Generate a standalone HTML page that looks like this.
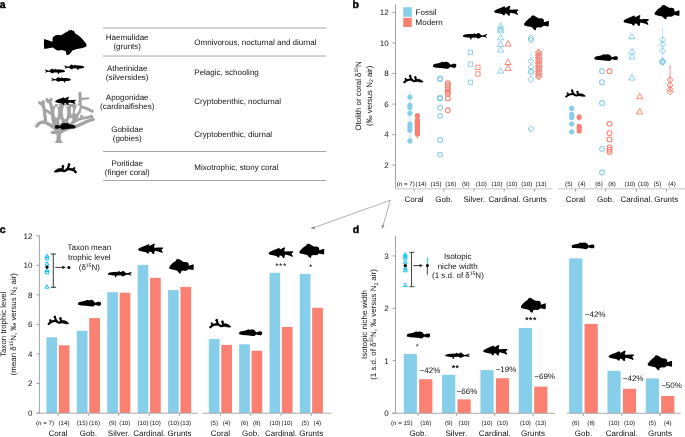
<!DOCTYPE html>
<html><head><meta charset="utf-8"><style>
html,body{margin:0;padding:0;background:#fff;width:685px;height:437px;overflow:hidden}
svg{display:block;will-change:transform}
text{font-family:"Liberation Sans",sans-serif;text-rendering:geometricPrecision}
</style></head><body>
<svg width="685" height="437" viewBox="0 0 685 437">
<rect width="685" height="437" fill="#fff"/>
<text x="-0.20" y="7.80" font-size="10.5" text-anchor="start" font-weight="bold" fill="#000" stroke="#000" stroke-width="0.45">a</text>
<line x1="103.00" y1="28.00" x2="326.30" y2="28.00" stroke="#a6a6a6" stroke-width="1" />
<line x1="103.00" y1="56.00" x2="326.30" y2="56.00" stroke="#a6a6a6" stroke-width="1" />
<line x1="103.00" y1="151.50" x2="326.30" y2="151.50" stroke="#a6a6a6" stroke-width="1" />
<line x1="103.00" y1="180.50" x2="326.30" y2="180.50" stroke="#a6a6a6" stroke-width="1" />
<text x="127.20" y="40.30" font-size="8.0" text-anchor="middle" font-weight="normal" fill="#111" >Haemulidae</text>
<text x="127.20" y="49.40" font-size="8.0" text-anchor="middle" font-weight="normal" fill="#111" >(grunts)</text>
<text x="194.30" y="44.85" font-size="8.0" text-anchor="start" font-weight="normal" fill="#111" >Omnivorous, nocturnal and diurnal</text>
<text x="127.20" y="70.80" font-size="8.0" text-anchor="middle" font-weight="normal" fill="#111" >Atherinidae</text>
<text x="127.20" y="79.90" font-size="8.0" text-anchor="middle" font-weight="normal" fill="#111" >(silversides)</text>
<text x="194.30" y="75.35" font-size="8.0" text-anchor="start" font-weight="normal" fill="#111" >Pelagic, schooling</text>
<text x="127.20" y="99.90" font-size="8.0" text-anchor="middle" font-weight="normal" fill="#111" >Apogonidae</text>
<text x="127.20" y="109.00" font-size="8.0" text-anchor="middle" font-weight="normal" fill="#111" >(cardinalfishes)</text>
<text x="194.30" y="104.45" font-size="8.0" text-anchor="start" font-weight="normal" fill="#111" >Cryptobenthic, nocturnal</text>
<text x="127.20" y="132.00" font-size="8.0" text-anchor="middle" font-weight="normal" fill="#111" >Gobiidae</text>
<text x="127.20" y="141.10" font-size="8.0" text-anchor="middle" font-weight="normal" fill="#111" >(gobies)</text>
<text x="194.30" y="136.55" font-size="8.0" text-anchor="start" font-weight="normal" fill="#111" >Cryptobenthic, diurnal</text>
<text x="127.20" y="165.50" font-size="8.0" text-anchor="middle" font-weight="normal" fill="#111" >Poritidae</text>
<text x="127.20" y="174.60" font-size="8.0" text-anchor="middle" font-weight="normal" fill="#111" >(finger coral)</text>
<text x="194.30" y="170.05" font-size="8.0" text-anchor="start" font-weight="normal" fill="#111" >Mixotrophic, stony coral</text>
<path transform="translate(43.80,29.20) scale(0.0743,0.0732)" d="M5,135 L118,172 L117,135 C121,100 150,80 188,80 C208,80 222,87 240,80 C265,64 295,42 330,24 L345,8 L357,22 L373,4 L385,24 L403,18 L423,60 C475,90 525,130 575,205 L572,238 C545,255 505,262 445,272 L385,290 C368,320 345,348 308,356 C300,335 300,312 294,298 L240,285 L205,292 L172,286 L150,270 L120,250 L8,272 C0,230 0,180 5,135 Z" fill="#000"/>
<path transform="translate(84.50,64.40) scale(-0.0364,0.0374)" d="M5,70 C20,45 60,32 135,30 L245,25 L265,0 L280,25 L315,30 L335,10 L365,5 L395,30 L415,50 L445,60 L545,30 L555,40 L515,80 L550,100 L540,115 L495,95 L435,90 L395,110 L365,130 L335,130 L305,105 L205,110 L195,150 L175,155 L165,115 L55,100 L10,90 Z" fill="#000"/>
<path transform="translate(65.20,68.50) scale(-0.0366,0.0374)" d="M5,70 C20,45 60,32 135,30 L245,25 L265,0 L280,25 L315,30 L335,10 L365,5 L395,30 L415,50 L445,60 L545,30 L555,40 L515,80 L550,100 L540,115 L495,95 L435,90 L395,110 L365,130 L335,130 L305,105 L205,110 L195,150 L175,155 L165,115 L55,100 L10,90 Z" fill="#000"/>
<path transform="translate(71.00,77.00) scale(-0.0357,0.0374)" d="M5,70 C20,45 60,32 135,30 L245,25 L265,0 L280,25 L315,30 L335,10 L365,5 L395,30 L415,50 L445,60 L545,30 L555,40 L515,80 L550,100 L540,115 L495,95 L435,90 L395,110 L365,130 L335,130 L305,105 L205,110 L195,150 L175,155 L165,115 L55,100 L10,90 Z" fill="#000"/>
<g fill="none" stroke="#a4a4a4" stroke-linecap="round" stroke-linejoin="round" stroke-width="2.99"><path d="M54.6,142.9 C56.4,141.5 56.8,139 56.6,135.5 L56.5,130 L60.9,130 L60.8,135.5 C60.6,139 61.2,141.5 63,142.9 Z" fill="#a4a4a4" stroke="none"/><path d="M53.2,104 L80.6,104 C81,110 79.5,116 76.5,120 C72,125 66,128.5 60.5,130.5 L56.5,130.5 C54.5,128 53.2,124 52.8,119 Z" fill="#a4a4a4" stroke="none"/><path stroke-width="3.33" d="M57.5,131 C54,127.5 49,123.6 44,122.2 C41,121.8 38.5,123 36.7,126.1"/><path stroke-width="2.99" d="M57.5,132.6 L52.3,132.4"/><path stroke-width="3.10" d="M59.5,133.2 C63,130.5 68,128.4 73.7,127.1 C79,125.5 84,122.8 88,121 L93.3,119.5"/><path stroke-width="2.76" d="M70,125.5 C73,122.5 75.5,120.5 78.5,119.4 C82,118.3 86,117.7 92.2,116.7 M81.9,118.4 L81.6,116.2 M90.2,117.1 L90.8,115.9"/><path stroke-width="3.22" d="M45.5,121 C45,116 44.5,111 43.8,107.5 C43.2,105 41.5,103.4 39.6,102.7 M43.3,104.8 L43.2,101.5"/><path stroke-width="2.76" d="M44.4,109.4 L51.6,114"/><path stroke-width="3.22" d="M54.5,126 C53.3,122 52.6,118 52.4,114 C52.2,110 51.6,106 50.5,103.5 C49.9,102.3 49.2,101.6 48.6,101"/><path stroke-width="2.99" d="M46.8,99.5 C47.6,102.2 50.4,102.2 51.2,99.4"/><path stroke-width="3.22" d="M79.4,112 C80.4,106 80.4,100 79.9,93.4"/><path stroke-width="2.30" d="M80.6,99.4 C83.5,98.6 85.8,98.3 88.2,98.3"/><path stroke-width="2.99" d="M80.6,106.6 C84.5,107.4 88.2,108.9 92.4,111.2"/></g>
<g fill="#fff"><ellipse cx="56.25" cy="112.2" rx="1.9" ry="5.8"/><ellipse cx="65.0" cy="112.3" rx="2.15" ry="6.9"/><ellipse cx="71.85" cy="110.4" rx="1.0" ry="4.0"/><ellipse cx="77.2" cy="109.6" rx="1.8" ry="4.6" transform="rotate(22 77.2 109.6)"/><ellipse cx="60.4" cy="121.6" rx="1.2" ry="2.5"/><ellipse cx="70.2" cy="120.5" rx="1.7" ry="2.9" transform="rotate(30 70.2 120.5)"/><ellipse cx="54.0" cy="104.6" rx="1.2" ry="1.6"/><ellipse cx="58.4" cy="105.6" rx="0.9" ry="1.4"/><ellipse cx="67.2" cy="105.6" rx="0.9" ry="1.4"/><ellipse cx="76.6" cy="104.4" rx="1.0" ry="1.6"/></g>
<path transform="translate(55.10,96.80) scale(0.0397,0.0364)" d="M0,130 C5,115 12,105 22,100 L72,75 L132,50 L182,30 L212,14 L232,25 L237,50 L257,40 L302,15 L337,0 L347,15 L327,80 L352,90 L432,85 L512,84 L522,103 L482,135 L512,190 L502,206 L452,180 L352,155 L337,180 L332,225 L307,225 L272,180 L232,175 L222,215 L192,215 L167,185 L112,175 L42,160 C20,156 8,152 4,146 C1,140 0,135 0,130 Z" fill="#000"/>
<path transform="translate(75.50,122.90) scale(-0.0390,0.0439)" d="M0,95 C2,75 8,62 20,57 L55,45 L125,35 C150,30 160,25 172,18 C185,8 195,4 210,2 C225,0 238,8 245,15 C255,6 265,3 285,2 C310,0 335,8 350,20 C365,32 375,48 385,65 C400,64 415,62 430,57 C450,49 470,45 495,48 C515,52 526,65 525,85 C524,105 520,122 500,133 C480,137 460,134 440,128 C420,122 405,116 385,118 C372,130 365,142 350,150 C335,156 318,156 300,152 C280,147 260,143 230,141 L175,136 L75,130 C40,127 15,122 8,115 C2,108 0,100 0,95 Z" fill="#000"/>
<g transform="translate(76.60,163.00) scale(-0.0436,0.0455) translate(-80,-120)" fill="none" stroke="#000" stroke-linecap="round" stroke-linejoin="round"><path stroke-width="54" d="M100,322 C122,298 145,280 175,268 C210,256 245,248 280,252 C305,258 322,280 345,290 C370,297 395,292 412,280"/><path stroke-width="50" d="M160,268 C150,255 142,242 134,232"/><path stroke-width="52" d="M292,256 C272,222 260,188 254,156"/><circle cx="253" cy="158" r="30" fill="#000" stroke="none"/><path stroke-width="50" d="M405,268 C400,240 396,212 393,192"/><circle cx="392" cy="193" r="28" fill="#000" stroke="none"/><path fill="#000" stroke-width="8" d="M392,255 C432,228 482,232 530,255 C565,272 590,296 600,316 C578,326 540,324 500,317 C452,309 412,300 382,290 Z"/></g>
<text x="352.40" y="7.60" font-size="10.5" text-anchor="start" font-weight="bold" fill="#000" stroke="#000" stroke-width="0.45">b</text>
<line x1="395.50" y1="4.40" x2="395.50" y2="188.60" stroke="#8c8c8c" stroke-width="0.8" />
<line x1="392.30" y1="165.20" x2="395.50" y2="165.20" stroke="#8c8c8c" stroke-width="0.8" />
<text x="388.60" y="168.00" font-size="8.0" text-anchor="end" font-weight="normal" fill="#111" >2</text>
<line x1="392.30" y1="134.64" x2="395.50" y2="134.64" stroke="#8c8c8c" stroke-width="0.8" />
<text x="388.60" y="137.44" font-size="8.0" text-anchor="end" font-weight="normal" fill="#111" >4</text>
<line x1="392.30" y1="104.08" x2="395.50" y2="104.08" stroke="#8c8c8c" stroke-width="0.8" />
<text x="388.60" y="106.88" font-size="8.0" text-anchor="end" font-weight="normal" fill="#111" >6</text>
<line x1="392.30" y1="73.52" x2="395.50" y2="73.52" stroke="#8c8c8c" stroke-width="0.8" />
<text x="388.60" y="76.32" font-size="8.0" text-anchor="end" font-weight="normal" fill="#111" >8</text>
<line x1="392.30" y1="42.96" x2="395.50" y2="42.96" stroke="#8c8c8c" stroke-width="0.8" />
<text x="388.60" y="45.76" font-size="8.0" text-anchor="end" font-weight="normal" fill="#111" >10</text>
<line x1="392.30" y1="12.40" x2="395.50" y2="12.40" stroke="#8c8c8c" stroke-width="0.8" />
<text x="388.60" y="15.20" font-size="8.0" text-anchor="end" font-weight="normal" fill="#111" >12</text>
<line x1="395.50" y1="188.90" x2="552.50" y2="188.90" stroke="#c4c4c4" stroke-width="1" />
<line x1="557.50" y1="188.90" x2="685.00" y2="188.90" stroke="#c4c4c4" stroke-width="1" />
<line x1="414.10" y1="188.90" x2="414.10" y2="191.60" stroke="#8c8c8c" stroke-width="0.8" />
<line x1="443.90" y1="188.90" x2="443.90" y2="191.60" stroke="#8c8c8c" stroke-width="0.8" />
<line x1="473.90" y1="188.90" x2="473.90" y2="191.60" stroke="#8c8c8c" stroke-width="0.8" />
<line x1="504.20" y1="188.90" x2="504.20" y2="191.60" stroke="#8c8c8c" stroke-width="0.8" />
<line x1="534.50" y1="188.90" x2="534.50" y2="191.60" stroke="#8c8c8c" stroke-width="0.8" />
<line x1="575.40" y1="188.90" x2="575.40" y2="191.60" stroke="#8c8c8c" stroke-width="0.8" />
<line x1="605.60" y1="188.90" x2="605.60" y2="191.60" stroke="#8c8c8c" stroke-width="0.8" />
<line x1="636.40" y1="188.90" x2="636.40" y2="191.60" stroke="#8c8c8c" stroke-width="0.8" />
<line x1="666.40" y1="188.90" x2="666.40" y2="191.60" stroke="#8c8c8c" stroke-width="0.8" />
<text transform="translate(361.46,95.80) rotate(-90)" font-size="7.9" text-anchor="middle" fill="#111">Otolith or coral δ<tspan font-size="5" dy="-3">15</tspan><tspan dy="3">N</tspan></text>
<text transform="translate(371.56,95.80) rotate(-90)" font-size="7.9" text-anchor="middle" fill="#111">(‰ versus N<tspan font-size="5" dy="1.6">2</tspan><tspan dy="-1.6"> air)</tspan></text>
<rect x="403.20" y="7.20" width="8.60" height="9.60" fill="#87CEEB"/>
<rect x="403.20" y="17.80" width="8.60" height="9.20" fill="#FA8072"/>
<text x="415.60" y="14.80" font-size="8.0" text-anchor="start" font-weight="normal" fill="#111" >Fossil</text>
<text x="415.60" y="24.60" font-size="8.0" text-anchor="start" font-weight="normal" fill="#111" >Modern</text>
<text x="414.80" y="185.70" font-size="6.2" text-anchor="end" font-weight="normal" fill="#111" >(<tspan font-style="italic">n</tspan> = 7)</text>
<text x="421.10" y="185.70" font-size="6.2" text-anchor="middle" font-weight="normal" fill="#111" >(14)</text>
<text x="436.00" y="185.70" font-size="6.2" text-anchor="middle" font-weight="normal" fill="#111" >(15)</text>
<text x="450.80" y="185.70" font-size="6.2" text-anchor="middle" font-weight="normal" fill="#111" >(16)</text>
<text x="465.70" y="185.70" font-size="6.2" text-anchor="middle" font-weight="normal" fill="#111" >(9)</text>
<text x="481.20" y="185.70" font-size="6.2" text-anchor="middle" font-weight="normal" fill="#111" >(10)</text>
<text x="497.00" y="185.70" font-size="6.2" text-anchor="middle" font-weight="normal" fill="#111" >(10)</text>
<text x="511.70" y="185.70" font-size="6.2" text-anchor="middle" font-weight="normal" fill="#111" >(10)</text>
<text x="526.80" y="185.70" font-size="6.2" text-anchor="middle" font-weight="normal" fill="#111" >(10)</text>
<text x="541.00" y="185.70" font-size="6.2" text-anchor="middle" font-weight="normal" fill="#111" >(13)</text>
<text x="568.90" y="185.70" font-size="6.2" text-anchor="middle" font-weight="normal" fill="#111" >(5)</text>
<text x="581.90" y="185.70" font-size="6.2" text-anchor="middle" font-weight="normal" fill="#111" >(4)</text>
<text x="599.10" y="185.70" font-size="6.2" text-anchor="middle" font-weight="normal" fill="#111" >(6)</text>
<text x="612.10" y="185.70" font-size="6.2" text-anchor="middle" font-weight="normal" fill="#111" >(8)</text>
<text x="629.90" y="185.70" font-size="6.2" text-anchor="middle" font-weight="normal" fill="#111" >(10)</text>
<text x="643.40" y="185.70" font-size="6.2" text-anchor="middle" font-weight="normal" fill="#111" >(10)</text>
<text x="657.60" y="185.70" font-size="6.2" text-anchor="middle" font-weight="normal" fill="#111" >(5)</text>
<text x="672.00" y="185.70" font-size="6.2" text-anchor="middle" font-weight="normal" fill="#111" >(4)</text>
<text x="414.10" y="202.10" font-size="8.0" text-anchor="middle" font-weight="normal" fill="#111" >Coral</text>
<text x="443.90" y="202.10" font-size="8.0" text-anchor="middle" font-weight="normal" fill="#111" >Gob.</text>
<text x="474.30" y="202.10" font-size="8.0" text-anchor="middle" font-weight="normal" fill="#111" >Silver.</text>
<text x="504.50" y="202.10" font-size="8.0" text-anchor="middle" font-weight="normal" fill="#111" >Cardinal.</text>
<text x="534.80" y="202.10" font-size="8.0" text-anchor="middle" font-weight="normal" fill="#111" >Grunts</text>
<text x="575.40" y="202.10" font-size="8.0" text-anchor="middle" font-weight="normal" fill="#111" >Coral</text>
<text x="605.60" y="202.10" font-size="8.0" text-anchor="middle" font-weight="normal" fill="#111" >Gob.</text>
<text x="636.40" y="202.10" font-size="8.0" text-anchor="middle" font-weight="normal" fill="#111" >Cardinal.</text>
<text x="666.30" y="202.10" font-size="8.0" text-anchor="middle" font-weight="normal" fill="#111" >Grunts</text>
<line x1="409.90" y1="91.20" x2="409.90" y2="140.90" stroke="#b9e2f3" stroke-width="0.9" />
<circle cx="409.90" cy="97.10" r="2.6" fill="#87CEEB"/>
<circle cx="409.90" cy="105.40" r="2.6" fill="#87CEEB"/>
<circle cx="409.90" cy="107.40" r="2.6" fill="#87CEEB"/>
<circle cx="409.90" cy="113.30" r="2.6" fill="#87CEEB"/>
<circle cx="409.90" cy="124.00" r="2.6" fill="#87CEEB"/>
<circle cx="409.90" cy="127.00" r="2.6" fill="#87CEEB"/>
<circle cx="409.90" cy="130.20" r="2.6" fill="#87CEEB"/>
<circle cx="409.90" cy="140.90" r="2.6" fill="#87CEEB"/>
<line x1="417.40" y1="115.00" x2="417.40" y2="138.50" stroke="#FA8072" stroke-width="0.9" />
<circle cx="417.40" cy="115.70" r="2.6" fill="#FA8072"/>
<circle cx="417.40" cy="120.00" r="2.6" fill="#FA8072"/>
<circle cx="417.40" cy="121.16" r="2.6" fill="#FA8072"/>
<circle cx="417.40" cy="122.32" r="2.6" fill="#FA8072"/>
<circle cx="417.40" cy="123.47" r="2.6" fill="#FA8072"/>
<circle cx="417.40" cy="124.63" r="2.6" fill="#FA8072"/>
<circle cx="417.40" cy="125.79" r="2.6" fill="#FA8072"/>
<circle cx="417.40" cy="126.95" r="2.6" fill="#FA8072"/>
<circle cx="417.40" cy="128.11" r="2.6" fill="#FA8072"/>
<circle cx="417.40" cy="129.27" r="2.6" fill="#FA8072"/>
<circle cx="417.40" cy="130.43" r="2.6" fill="#FA8072"/>
<circle cx="417.40" cy="131.58" r="2.6" fill="#FA8072"/>
<circle cx="417.40" cy="132.74" r="2.6" fill="#FA8072"/>
<circle cx="417.40" cy="133.90" r="2.6" fill="#FA8072"/>
<circle cx="440.10" cy="78.50" r="2.4" fill="none" stroke="#87CEEB" stroke-width="1.1"/>
<circle cx="440.10" cy="79.10" r="2.4" fill="none" stroke="#87CEEB" stroke-width="1.1"/>
<circle cx="440.10" cy="97.60" r="2.4" fill="none" stroke="#87CEEB" stroke-width="1.1"/>
<circle cx="440.10" cy="98.10" r="2.4" fill="none" stroke="#87CEEB" stroke-width="1.1"/>
<circle cx="440.10" cy="98.60" r="2.4" fill="none" stroke="#87CEEB" stroke-width="1.1"/>
<circle cx="440.10" cy="107.70" r="2.4" fill="none" stroke="#87CEEB" stroke-width="1.1"/>
<circle cx="440.10" cy="116.00" r="2.4" fill="none" stroke="#87CEEB" stroke-width="1.1"/>
<circle cx="440.10" cy="140.00" r="2.4" fill="none" stroke="#87CEEB" stroke-width="1.1"/>
<circle cx="440.10" cy="154.60" r="2.4" fill="none" stroke="#87CEEB" stroke-width="1.1"/>
<circle cx="447.80" cy="83.30" r="2.4" fill="none" stroke="#FA8072" stroke-width="1.1"/>
<circle cx="447.80" cy="85.50" r="2.4" fill="none" stroke="#FA8072" stroke-width="1.1"/>
<circle cx="447.80" cy="87.70" r="2.4" fill="none" stroke="#FA8072" stroke-width="1.1"/>
<circle cx="447.80" cy="89.90" r="2.4" fill="none" stroke="#FA8072" stroke-width="1.1"/>
<circle cx="447.80" cy="92.00" r="2.4" fill="none" stroke="#FA8072" stroke-width="1.1"/>
<circle cx="447.80" cy="93.80" r="2.4" fill="none" stroke="#FA8072" stroke-width="1.1"/>
<circle cx="447.80" cy="98.40" r="2.4" fill="none" stroke="#FA8072" stroke-width="1.1"/>
<circle cx="447.80" cy="110.30" r="2.4" fill="none" stroke="#FA8072" stroke-width="1.1"/>
<rect x="468.25" y="50.25" width="4.3" height="4.3" fill="none" stroke="#87CEEB" stroke-width="0.9"/>
<rect x="468.25" y="61.95" width="4.3" height="4.3" fill="none" stroke="#87CEEB" stroke-width="0.9"/>
<rect x="468.25" y="80.15" width="4.3" height="4.3" fill="none" stroke="#87CEEB" stroke-width="0.9"/>
<rect x="475.75" y="65.15" width="4.3" height="4.3" fill="none" stroke="#FA8072" stroke-width="0.9"/>
<rect x="475.75" y="71.85" width="4.3" height="4.3" fill="none" stroke="#FA8072" stroke-width="0.9"/>
<path d="M500.60,22.75 L503.75,28.25 L497.45,28.25 Z" fill="none" stroke="#87CEEB" stroke-width="0.95" stroke-linejoin="miter"/>
<path d="M500.60,25.55 L503.75,31.05 L497.45,31.05 Z" fill="none" stroke="#87CEEB" stroke-width="0.95" stroke-linejoin="miter"/>
<path d="M500.60,27.35 L503.75,32.85 L497.45,32.85 Z" fill="none" stroke="#87CEEB" stroke-width="0.95" stroke-linejoin="miter"/>
<path d="M500.60,34.35 L503.75,39.85 L497.45,39.85 Z" fill="none" stroke="#87CEEB" stroke-width="0.95" stroke-linejoin="miter"/>
<path d="M500.60,41.05 L503.75,46.55 L497.45,46.55 Z" fill="none" stroke="#87CEEB" stroke-width="0.95" stroke-linejoin="miter"/>
<path d="M500.60,46.55 L503.75,52.05 L497.45,52.05 Z" fill="none" stroke="#87CEEB" stroke-width="0.95" stroke-linejoin="miter"/>
<path d="M500.60,67.65 L503.75,73.15 L497.45,73.15 Z" fill="none" stroke="#87CEEB" stroke-width="0.95" stroke-linejoin="miter"/>
<path d="M508.10,40.55 L511.25,46.05 L504.95,46.05 Z" fill="none" stroke="#FA8072" stroke-width="0.95" stroke-linejoin="miter"/>
<path d="M508.10,59.05 L511.25,64.55 L504.95,64.55 Z" fill="none" stroke="#FA8072" stroke-width="0.95" stroke-linejoin="miter"/>
<path d="M508.10,64.85 L511.25,70.35 L504.95,70.35 Z" fill="none" stroke="#FA8072" stroke-width="0.95" stroke-linejoin="miter"/>
<line x1="531.00" y1="51.30" x2="531.00" y2="62.00" stroke="#b9e2f3" stroke-width="0.9" />
<path d="M531.00,34.95 L534.05,38.00 L531.00,41.05 L527.95,38.00 Z" fill="none" stroke="#87CEEB" stroke-width="1.0"/>
<path d="M531.00,37.05 L534.05,40.10 L531.00,43.15 L527.95,40.10 Z" fill="none" stroke="#87CEEB" stroke-width="1.0"/>
<path d="M531.00,58.15 L534.05,61.20 L531.00,64.25 L527.95,61.20 Z" fill="none" stroke="#87CEEB" stroke-width="1.0"/>
<path d="M531.00,63.75 L534.05,66.80 L531.00,69.85 L527.95,66.80 Z" fill="none" stroke="#87CEEB" stroke-width="1.0"/>
<path d="M531.00,68.05 L534.05,71.10 L531.00,74.15 L527.95,71.10 Z" fill="none" stroke="#87CEEB" stroke-width="1.0"/>
<path d="M531.00,69.65 L534.05,72.70 L531.00,75.75 L527.95,72.70 Z" fill="none" stroke="#87CEEB" stroke-width="1.0"/>
<path d="M531.00,76.25 L534.05,79.30 L531.00,82.35 L527.95,79.30 Z" fill="none" stroke="#87CEEB" stroke-width="1.0"/>
<path d="M531.00,125.85 L534.05,128.90 L531.00,131.95 L527.95,128.90 Z" fill="none" stroke="#87CEEB" stroke-width="1.0"/>
<path d="M538.70,49.35 L541.75,52.40 L538.70,55.45 L535.65,52.40 Z" fill="none" stroke="#FA8072" stroke-width="1.15"/>
<path d="M538.70,52.02 L541.75,55.07 L538.70,58.12 L535.65,55.07 Z" fill="none" stroke="#FA8072" stroke-width="1.15"/>
<path d="M538.70,54.68 L541.75,57.73 L538.70,60.78 L535.65,57.73 Z" fill="none" stroke="#FA8072" stroke-width="1.15"/>
<path d="M538.70,57.35 L541.75,60.40 L538.70,63.45 L535.65,60.40 Z" fill="none" stroke="#FA8072" stroke-width="1.15"/>
<path d="M538.70,60.02 L541.75,63.07 L538.70,66.12 L535.65,63.07 Z" fill="none" stroke="#FA8072" stroke-width="1.15"/>
<path d="M538.70,62.68 L541.75,65.73 L538.70,68.78 L535.65,65.73 Z" fill="none" stroke="#FA8072" stroke-width="1.15"/>
<path d="M538.70,65.35 L541.75,68.40 L538.70,71.45 L535.65,68.40 Z" fill="none" stroke="#FA8072" stroke-width="1.15"/>
<path d="M538.70,68.02 L541.75,71.07 L538.70,74.12 L535.65,71.07 Z" fill="none" stroke="#FA8072" stroke-width="1.15"/>
<path d="M538.70,70.68 L541.75,73.73 L538.70,76.78 L535.65,73.73 Z" fill="none" stroke="#FA8072" stroke-width="1.15"/>
<path d="M538.70,73.35 L541.75,76.40 L538.70,79.45 L535.65,76.40 Z" fill="none" stroke="#FA8072" stroke-width="1.15"/>
<circle cx="571.70" cy="108.40" r="2.6" fill="#87CEEB"/>
<circle cx="571.70" cy="114.30" r="2.6" fill="#87CEEB"/>
<circle cx="571.70" cy="117.60" r="2.6" fill="#87CEEB"/>
<circle cx="571.70" cy="124.10" r="2.6" fill="#87CEEB"/>
<circle cx="571.70" cy="131.80" r="2.6" fill="#87CEEB"/>
<line x1="579.20" y1="113.90" x2="579.20" y2="120.50" stroke="#FA8072" stroke-width="0.9" />
<circle cx="579.20" cy="117.20" r="2.6" fill="#FA8072"/>
<circle cx="579.20" cy="126.30" r="2.6" fill="#FA8072"/>
<circle cx="579.20" cy="128.60" r="2.6" fill="#FA8072"/>
<circle cx="579.20" cy="131.00" r="2.6" fill="#FA8072"/>
<circle cx="602.00" cy="71.30" r="2.4" fill="none" stroke="#87CEEB" stroke-width="1.1"/>
<circle cx="602.00" cy="82.20" r="2.4" fill="none" stroke="#87CEEB" stroke-width="1.1"/>
<circle cx="602.00" cy="103.00" r="2.4" fill="none" stroke="#87CEEB" stroke-width="1.1"/>
<circle cx="602.00" cy="148.90" r="2.4" fill="none" stroke="#87CEEB" stroke-width="1.1"/>
<circle cx="602.00" cy="172.50" r="2.4" fill="none" stroke="#87CEEB" stroke-width="1.1"/>
<circle cx="609.50" cy="71.30" r="2.4" fill="none" stroke="#FA8072" stroke-width="1.1"/>
<circle cx="609.50" cy="123.60" r="2.4" fill="none" stroke="#FA8072" stroke-width="1.1"/>
<circle cx="609.50" cy="133.10" r="2.4" fill="none" stroke="#FA8072" stroke-width="1.1"/>
<circle cx="609.50" cy="139.40" r="2.4" fill="none" stroke="#FA8072" stroke-width="1.1"/>
<circle cx="609.50" cy="147.40" r="2.4" fill="none" stroke="#FA8072" stroke-width="1.1"/>
<circle cx="609.50" cy="149.70" r="2.4" fill="none" stroke="#FA8072" stroke-width="1.1"/>
<circle cx="609.50" cy="151.90" r="2.4" fill="none" stroke="#FA8072" stroke-width="1.1"/>
<path d="M631.90,33.25 L635.05,38.75 L628.75,38.75 Z" fill="none" stroke="#87CEEB" stroke-width="0.95" stroke-linejoin="miter"/>
<path d="M631.90,48.55 L635.05,54.05 L628.75,54.05 Z" fill="none" stroke="#87CEEB" stroke-width="0.95" stroke-linejoin="miter"/>
<path d="M631.90,53.35 L635.05,58.85 L628.75,58.85 Z" fill="none" stroke="#87CEEB" stroke-width="0.95" stroke-linejoin="miter"/>
<path d="M631.90,74.55 L635.05,80.05 L628.75,80.05 Z" fill="none" stroke="#87CEEB" stroke-width="0.95" stroke-linejoin="miter"/>
<path d="M639.70,93.25 L642.85,98.75 L636.55,98.75 Z" fill="none" stroke="#FA8072" stroke-width="0.95" stroke-linejoin="miter"/>
<path d="M639.70,108.45 L642.85,113.95 L636.55,113.95 Z" fill="none" stroke="#FA8072" stroke-width="0.95" stroke-linejoin="miter"/>
<line x1="662.60" y1="27.40" x2="662.60" y2="62.00" stroke="#b9e2f3" stroke-width="0.9" />
<path d="M662.60,36.65 L665.65,39.70 L662.60,42.75 L659.55,39.70 Z" fill="none" stroke="#87CEEB" stroke-width="1.0"/>
<path d="M662.60,41.35 L665.65,44.40 L662.60,47.45 L659.55,44.40 Z" fill="none" stroke="#87CEEB" stroke-width="1.0"/>
<path d="M662.60,47.85 L665.65,50.90 L662.60,53.95 L659.55,50.90 Z" fill="none" stroke="#87CEEB" stroke-width="1.0"/>
<path d="M662.60,57.75 L665.65,60.80 L662.60,63.85 L659.55,60.80 Z" fill="none" stroke="#87CEEB" stroke-width="1.0"/>
<path d="M662.60,58.35 L665.65,61.40 L662.60,64.45 L659.55,61.40 Z" fill="none" stroke="#87CEEB" stroke-width="1.0"/>
<path d="M662.60,58.95 L665.65,62.00 L662.60,65.05 L659.55,62.00 Z" fill="none" stroke="#87CEEB" stroke-width="1.0"/>
<path d="M662.60,59.55 L665.65,62.60 L662.60,65.65 L659.55,62.60 Z" fill="none" stroke="#87CEEB" stroke-width="1.0"/>
<line x1="670.10" y1="65.00" x2="670.10" y2="92.00" stroke="#FA8072" stroke-width="0.9" />
<path d="M670.10,76.85 L673.15,79.90 L670.10,82.95 L667.05,79.90 Z" fill="none" stroke="#FA8072" stroke-width="1.0"/>
<path d="M670.10,81.95 L673.15,85.00 L670.10,88.05 L667.05,85.00 Z" fill="none" stroke="#FA8072" stroke-width="1.0"/>
<path d="M670.10,86.35 L673.15,89.40 L670.10,92.45 L667.05,89.40 Z" fill="none" stroke="#FA8072" stroke-width="1.0"/>
<path d="M670.10,88.75 L673.15,91.80 L670.10,94.85 L667.05,91.80 Z" fill="none" stroke="#FA8072" stroke-width="1.0"/>
<g transform="translate(403.50,74.50) scale(0.0381,0.0386) translate(-80,-120)" fill="none" stroke="#000" stroke-linecap="round" stroke-linejoin="round"><path stroke-width="54" d="M100,322 C122,298 145,280 175,268 C210,256 245,248 280,252 C305,258 322,280 345,290 C370,297 395,292 412,280"/><path stroke-width="50" d="M160,268 C150,255 142,242 134,232"/><path stroke-width="52" d="M292,256 C272,222 260,188 254,156"/><circle cx="253" cy="158" r="30" fill="#000" stroke="none"/><path stroke-width="50" d="M405,268 C400,240 396,212 393,192"/><circle cx="392" cy="193" r="28" fill="#000" stroke="none"/><path fill="#000" stroke-width="8" d="M392,255 C432,228 482,232 530,255 C565,272 590,296 600,316 C578,326 540,324 500,317 C452,309 412,300 382,290 Z"/></g>
<path transform="translate(433.00,61.60) scale(0.0444,0.0465)" d="M0,95 C2,75 8,62 20,57 L55,45 L125,35 C150,30 160,25 172,18 C185,8 195,4 210,2 C225,0 238,8 245,15 C255,6 265,3 285,2 C310,0 335,8 350,20 C365,32 375,48 385,65 C400,64 415,62 430,57 C450,49 470,45 495,48 C515,52 526,65 525,85 C524,105 520,122 500,133 C480,137 460,134 440,128 C420,122 405,116 385,118 C372,130 365,142 350,150 C335,156 318,156 300,152 C280,147 260,143 230,141 L175,136 L75,130 C40,127 15,122 8,115 C2,108 0,100 0,95 Z" fill="#000"/>
<path transform="translate(462.70,32.80) scale(0.0441,0.0439)" d="M5,70 C20,45 60,32 135,30 L245,25 L265,0 L280,25 L315,30 L335,10 L365,5 L395,30 L415,50 L445,60 L545,30 L555,40 L515,80 L550,100 L540,115 L495,95 L435,90 L395,110 L365,130 L335,130 L305,105 L205,110 L195,150 L175,155 L165,115 L55,100 L10,90 Z" fill="#000"/>
<path transform="translate(494.20,5.70) scale(0.0466,0.0449)" d="M0,130 C5,115 12,105 22,100 L72,75 L132,50 L182,30 L212,14 L232,25 L237,50 L257,40 L302,15 L337,0 L347,15 L327,80 L352,90 L432,85 L512,84 L522,103 L482,135 L512,190 L502,206 L452,180 L352,155 L337,180 L332,225 L307,225 L272,180 L232,175 L222,215 L192,215 L167,185 L112,175 L42,160 C20,156 8,152 4,146 C1,140 0,135 0,130 Z" fill="#000"/>
<path transform="translate(549.00,14.90) scale(-0.0433,0.0431)" d="M5,135 L118,172 L117,135 C121,100 150,80 188,80 C208,80 222,87 240,80 C265,64 295,42 330,24 L345,8 L357,22 L373,4 L385,24 L403,18 L423,60 C475,90 525,130 575,205 L572,238 C545,255 505,262 445,272 L385,290 C368,320 345,348 308,356 C300,335 300,312 294,298 L240,285 L205,292 L172,286 L150,270 L120,250 L8,272 C0,230 0,180 5,135 Z" fill="#000"/>
<g transform="translate(565.40,89.20) scale(0.0387,0.0364) translate(-80,-120)" fill="none" stroke="#000" stroke-linecap="round" stroke-linejoin="round"><path stroke-width="54" d="M100,322 C122,298 145,280 175,268 C210,256 245,248 280,252 C305,258 322,280 345,290 C370,297 395,292 412,280"/><path stroke-width="50" d="M160,268 C150,255 142,242 134,232"/><path stroke-width="52" d="M292,256 C272,222 260,188 254,156"/><circle cx="253" cy="158" r="30" fill="#000" stroke="none"/><path stroke-width="50" d="M405,268 C400,240 396,212 393,192"/><circle cx="392" cy="193" r="28" fill="#000" stroke="none"/><path fill="#000" stroke-width="8" d="M392,255 C432,228 482,232 530,255 C565,272 590,296 600,316 C578,326 540,324 500,317 C452,309 412,300 382,290 Z"/></g>
<path transform="translate(594.40,54.20) scale(0.0446,0.0439)" d="M0,95 C2,75 8,62 20,57 L55,45 L125,35 C150,30 160,25 172,18 C185,8 195,4 210,2 C225,0 238,8 245,15 C255,6 265,3 285,2 C310,0 335,8 350,20 C365,32 375,48 385,65 C400,64 415,62 430,57 C450,49 470,45 495,48 C515,52 526,65 525,85 C524,105 520,122 500,133 C480,137 460,134 440,128 C420,122 405,116 385,118 C372,130 365,142 350,150 C335,156 318,156 300,152 C280,147 260,143 230,141 L175,136 L75,130 C40,127 15,122 8,115 C2,108 0,100 0,95 Z" fill="#000"/>
<path transform="translate(623.60,14.90) scale(0.0485,0.0489)" d="M0,130 C5,115 12,105 22,100 L72,75 L132,50 L182,30 L212,14 L232,25 L237,50 L257,40 L302,15 L337,0 L347,15 L327,80 L352,90 L432,85 L512,84 L522,103 L482,135 L512,190 L502,206 L452,180 L352,155 L337,180 L332,225 L307,225 L272,180 L232,175 L222,215 L192,215 L167,185 L112,175 L42,160 C20,156 8,152 4,146 C1,140 0,135 0,130 Z" fill="#000"/>
<path transform="translate(679.60,4.50) scale(-0.0436,0.0420)" d="M5,135 L118,172 L117,135 C121,100 150,80 188,80 C208,80 222,87 240,80 C265,64 295,42 330,24 L345,8 L357,22 L373,4 L385,24 L403,18 L423,60 C475,90 525,130 575,205 L572,238 C545,255 505,262 445,272 L385,290 C368,320 345,348 308,356 C300,335 300,312 294,298 L240,285 L205,292 L172,286 L150,270 L120,250 L8,272 C0,230 0,180 5,135 Z" fill="#000"/>
<g stroke="#8c8c8c" stroke-width="0.7" fill="none"><path d="M390.3,200.2 L313.5,227.8"/><path d="M390.3,200.2 L382.9,226.2"/></g>
<path d="M310.6,228.8 L315.0,228.9 L313.9,225.9 Z M382.1,229.0 L384.6,225.6 L381.6,224.8 Z" fill="#8c8c8c"/>
<text x="-0.20" y="232.80" font-size="10.5" text-anchor="start" font-weight="bold" fill="#000" stroke="#000" stroke-width="0.45">c</text>
<line x1="39.40" y1="235.50" x2="39.40" y2="413.00" stroke="#8c8c8c" stroke-width="0.8" />
<line x1="36.40" y1="413.00" x2="39.40" y2="413.00" stroke="#8c8c8c" stroke-width="0.8" />
<text x="32.40" y="415.80" font-size="8.0" text-anchor="end" font-weight="normal" fill="#111" >0</text>
<line x1="36.40" y1="383.46" x2="39.40" y2="383.46" stroke="#8c8c8c" stroke-width="0.8" />
<text x="32.40" y="386.26" font-size="8.0" text-anchor="end" font-weight="normal" fill="#111" >2</text>
<line x1="36.40" y1="353.92" x2="39.40" y2="353.92" stroke="#8c8c8c" stroke-width="0.8" />
<text x="32.40" y="356.72" font-size="8.0" text-anchor="end" font-weight="normal" fill="#111" >4</text>
<line x1="36.40" y1="324.38" x2="39.40" y2="324.38" stroke="#8c8c8c" stroke-width="0.8" />
<text x="32.40" y="327.18" font-size="8.0" text-anchor="end" font-weight="normal" fill="#111" >6</text>
<line x1="36.40" y1="294.84" x2="39.40" y2="294.84" stroke="#8c8c8c" stroke-width="0.8" />
<text x="32.40" y="297.64" font-size="8.0" text-anchor="end" font-weight="normal" fill="#111" >8</text>
<line x1="36.40" y1="265.30" x2="39.40" y2="265.30" stroke="#8c8c8c" stroke-width="0.8" />
<text x="32.40" y="268.10" font-size="8.0" text-anchor="end" font-weight="normal" fill="#111" >10</text>
<line x1="36.40" y1="235.76" x2="39.40" y2="235.76" stroke="#8c8c8c" stroke-width="0.8" />
<text x="32.40" y="238.56" font-size="8.0" text-anchor="end" font-weight="normal" fill="#111" >12</text>
<text transform="translate(6.17,324.20) rotate(-90)" font-size="7.9" text-anchor="middle" fill="#111">Taxon trophic level</text>
<text transform="translate(15.57,324.20) rotate(-90)" font-size="7.9" text-anchor="middle" fill="#111">(mean δ<tspan font-size="5" dy="-3">15</tspan><tspan dy="3">N</tspan>, ‰ versus N<tspan font-size="5" dy="1.6">2</tspan><tspan dy="-1.6"> air)</tspan></text>
<rect x="46.40" y="337.30" width="10.70" height="75.70" fill="#87CEEB"/>
<rect x="58.80" y="345.30" width="10.70" height="67.70" fill="#FA8072"/>
<rect x="76.81" y="330.70" width="10.70" height="82.30" fill="#87CEEB"/>
<rect x="89.21" y="318.10" width="10.70" height="94.90" fill="#FA8072"/>
<rect x="107.22" y="292.20" width="10.70" height="120.80" fill="#87CEEB"/>
<rect x="119.62" y="292.70" width="10.70" height="120.30" fill="#FA8072"/>
<rect x="137.63" y="264.90" width="10.70" height="148.10" fill="#87CEEB"/>
<rect x="150.03" y="277.80" width="10.70" height="135.20" fill="#FA8072"/>
<rect x="168.04" y="290.10" width="10.70" height="122.90" fill="#87CEEB"/>
<rect x="180.44" y="286.90" width="10.70" height="126.10" fill="#FA8072"/>
<rect x="208.85" y="339.00" width="10.70" height="74.00" fill="#87CEEB"/>
<rect x="221.25" y="344.90" width="10.70" height="68.10" fill="#FA8072"/>
<rect x="239.15" y="344.30" width="10.70" height="68.70" fill="#87CEEB"/>
<rect x="251.55" y="350.70" width="10.70" height="62.30" fill="#FA8072"/>
<rect x="269.45" y="272.80" width="10.70" height="140.20" fill="#87CEEB"/>
<rect x="281.85" y="327.00" width="10.70" height="86.00" fill="#FA8072"/>
<rect x="299.75" y="273.90" width="10.70" height="139.10" fill="#87CEEB"/>
<rect x="312.15" y="307.80" width="10.70" height="105.20" fill="#FA8072"/>
<line x1="36.40" y1="413.20" x2="197.80" y2="413.20" stroke="#a0a0a0" stroke-width="0.9" />
<line x1="202.30" y1="413.20" x2="331.50" y2="413.20" stroke="#a0a0a0" stroke-width="0.9" />
<line x1="57.95" y1="413.20" x2="57.95" y2="415.80" stroke="#8c8c8c" stroke-width="0.8" />
<line x1="88.36" y1="413.20" x2="88.36" y2="415.80" stroke="#8c8c8c" stroke-width="0.8" />
<line x1="118.77" y1="413.20" x2="118.77" y2="415.80" stroke="#8c8c8c" stroke-width="0.8" />
<line x1="149.18" y1="413.20" x2="149.18" y2="415.80" stroke="#8c8c8c" stroke-width="0.8" />
<line x1="179.59" y1="413.20" x2="179.59" y2="415.80" stroke="#8c8c8c" stroke-width="0.8" />
<line x1="220.40" y1="413.20" x2="220.40" y2="415.80" stroke="#8c8c8c" stroke-width="0.8" />
<line x1="250.70" y1="413.20" x2="250.70" y2="415.80" stroke="#8c8c8c" stroke-width="0.8" />
<line x1="281.00" y1="413.20" x2="281.00" y2="415.80" stroke="#8c8c8c" stroke-width="0.8" />
<line x1="311.30" y1="413.20" x2="311.30" y2="415.80" stroke="#8c8c8c" stroke-width="0.8" />
<text x="54.00" y="424.60" font-size="6.2" text-anchor="end" font-weight="normal" fill="#111" >(<tspan font-style="italic">n</tspan> = 7)</text>
<text x="51.85" y="424.60" font-size="6.2" text-anchor="middle" font-weight="normal" fill="#111" ></text>
<text x="64.05" y="424.60" font-size="6.2" text-anchor="middle" font-weight="normal" fill="#111" >(14)</text>
<text x="82.26" y="424.60" font-size="6.2" text-anchor="middle" font-weight="normal" fill="#111" >(15)</text>
<text x="94.46" y="424.60" font-size="6.2" text-anchor="middle" font-weight="normal" fill="#111" >(16)</text>
<text x="112.67" y="424.60" font-size="6.2" text-anchor="middle" font-weight="normal" fill="#111" >(9)</text>
<text x="124.87" y="424.60" font-size="6.2" text-anchor="middle" font-weight="normal" fill="#111" >(10)</text>
<text x="143.08" y="424.60" font-size="6.2" text-anchor="middle" font-weight="normal" fill="#111" >(10)</text>
<text x="155.28" y="424.60" font-size="6.2" text-anchor="middle" font-weight="normal" fill="#111" >(10)</text>
<text x="173.49" y="424.60" font-size="6.2" text-anchor="middle" font-weight="normal" fill="#111" >(10)</text>
<text x="185.69" y="424.60" font-size="6.2" text-anchor="middle" font-weight="normal" fill="#111" >(13)</text>
<text x="214.30" y="424.60" font-size="6.2" text-anchor="middle" font-weight="normal" fill="#111" >(5)</text>
<text x="226.50" y="424.60" font-size="6.2" text-anchor="middle" font-weight="normal" fill="#111" >(4)</text>
<text x="244.60" y="424.60" font-size="6.2" text-anchor="middle" font-weight="normal" fill="#111" >(6)</text>
<text x="256.80" y="424.60" font-size="6.2" text-anchor="middle" font-weight="normal" fill="#111" >(8)</text>
<text x="274.90" y="424.60" font-size="6.2" text-anchor="middle" font-weight="normal" fill="#111" >(10)</text>
<text x="287.10" y="424.60" font-size="6.2" text-anchor="middle" font-weight="normal" fill="#111" >(10)</text>
<text x="305.20" y="424.60" font-size="6.2" text-anchor="middle" font-weight="normal" fill="#111" >(5)</text>
<text x="317.40" y="424.60" font-size="6.2" text-anchor="middle" font-weight="normal" fill="#111" >(4)</text>
<text x="57.95" y="436.40" font-size="8.0" text-anchor="middle" font-weight="normal" fill="#111" >Coral</text>
<text x="88.36" y="436.40" font-size="8.0" text-anchor="middle" font-weight="normal" fill="#111" >Gob.</text>
<text x="118.77" y="436.40" font-size="8.0" text-anchor="middle" font-weight="normal" fill="#111" >Silver.</text>
<text x="149.18" y="436.40" font-size="8.0" text-anchor="middle" font-weight="normal" fill="#111" >Cardinal.</text>
<text x="179.59" y="436.40" font-size="8.0" text-anchor="middle" font-weight="normal" fill="#111" >Grunts</text>
<text x="220.40" y="436.40" font-size="8.0" text-anchor="middle" font-weight="normal" fill="#111" >Coral</text>
<text x="250.70" y="436.40" font-size="8.0" text-anchor="middle" font-weight="normal" fill="#111" >Gob.</text>
<text x="281.00" y="436.40" font-size="8.0" text-anchor="middle" font-weight="normal" fill="#111" >Cardinal.</text>
<text x="311.30" y="436.40" font-size="8.0" text-anchor="middle" font-weight="normal" fill="#111" >Grunts</text>
<path d="M47.00,254.10 L49.00,257.50 L45.00,257.50 Z" fill="none" stroke="#00BFFF" stroke-width="0.95" stroke-linejoin="miter"/>
<path d="M47.00,256.40 L49.00,259.80 L45.00,259.80 Z" fill="none" stroke="#00BFFF" stroke-width="0.95" stroke-linejoin="miter"/>
<path d="M47.00,261.70 L49.00,265.10 L45.00,265.10 Z" fill="none" stroke="#00BFFF" stroke-width="0.95" stroke-linejoin="miter"/>
<path d="M47.00,268.10 L49.00,271.50 L45.00,271.50 Z" fill="none" stroke="#00BFFF" stroke-width="0.95" stroke-linejoin="miter"/>
<path d="M47.00,270.40 L49.00,273.80 L45.00,273.80 Z" fill="none" stroke="#00BFFF" stroke-width="0.95" stroke-linejoin="miter"/>
<path d="M47.00,284.80 L49.00,288.20 L45.00,288.20 Z" fill="none" stroke="#00BFFF" stroke-width="0.95" stroke-linejoin="miter"/>
<circle cx="47" cy="267.1" r="1.7" fill="#000"/>
<line x1="53.30" y1="254.00" x2="53.30" y2="287.30" stroke="#222" stroke-width="0.9" />
<line x1="50.80" y1="254.00" x2="56.00" y2="254.00" stroke="#222" stroke-width="0.9" />
<line x1="50.80" y1="287.30" x2="56.00" y2="287.30" stroke="#222" stroke-width="0.9" />
<line x1="55.30" y1="267.40" x2="63.50" y2="267.40" stroke="#222" stroke-width="0.9" />
<path d="M62.3,265.6 L65.8,267.4 L62.3,269.2 Z" fill="#222"/>
<circle cx="68.9" cy="267.4" r="1.5" fill="#000"/>
<text x="89.30" y="250.30" font-size="8.0" text-anchor="middle" font-weight="normal" fill="#111" >Taxon mean</text>
<text x="89.30" y="260.00" font-size="8.0" text-anchor="middle" font-weight="normal" fill="#111" >trophic level</text>
<text x="89.30" y="269.80" font-size="8.0" text-anchor="middle" font-weight="normal" fill="#111" >(δ<tspan font-size="5" dy="-3">15</tspan><tspan dy="3">N</tspan>)</text>
<g transform="translate(47.90,315.30) scale(0.0402,0.0427) translate(-80,-120)" fill="none" stroke="#000" stroke-linecap="round" stroke-linejoin="round"><path stroke-width="54" d="M100,322 C122,298 145,280 175,268 C210,256 245,248 280,252 C305,258 322,280 345,290 C370,297 395,292 412,280"/><path stroke-width="50" d="M160,268 C150,255 142,242 134,232"/><path stroke-width="52" d="M292,256 C272,222 260,188 254,156"/><circle cx="253" cy="158" r="30" fill="#000" stroke="none"/><path stroke-width="50" d="M405,268 C400,240 396,212 393,192"/><circle cx="392" cy="193" r="28" fill="#000" stroke="none"/><path fill="#000" stroke-width="8" d="M392,255 C432,228 482,232 530,255 C565,272 590,296 600,316 C578,326 540,324 500,317 C452,309 412,300 382,290 Z"/></g>
<path transform="translate(78.00,299.80) scale(0.0440,0.0439)" d="M0,95 C2,75 8,62 20,57 L55,45 L125,35 C150,30 160,25 172,18 C185,8 195,4 210,2 C225,0 238,8 245,15 C255,6 265,3 285,2 C310,0 335,8 350,20 C365,32 375,48 385,65 C400,64 415,62 430,57 C450,49 470,45 495,48 C515,52 526,65 525,85 C524,105 520,122 500,133 C480,137 460,134 440,128 C420,122 405,116 385,118 C372,130 365,142 350,150 C335,156 318,156 300,152 C280,147 260,143 230,141 L175,136 L75,130 C40,127 15,122 8,115 C2,108 0,100 0,95 Z" fill="#000"/>
<path transform="translate(107.70,270.80) scale(0.0434,0.0426)" d="M5,70 C20,45 60,32 135,30 L245,25 L265,0 L280,25 L315,30 L335,10 L365,5 L395,30 L415,50 L445,60 L545,30 L555,40 L515,80 L550,100 L540,115 L495,95 L435,90 L395,110 L365,130 L335,130 L305,105 L205,110 L195,150 L175,155 L165,115 L55,100 L10,90 Z" fill="#000"/>
<path transform="translate(138.10,243.60) scale(0.0483,0.0462)" d="M0,130 C5,115 12,105 22,100 L72,75 L132,50 L182,30 L212,14 L232,25 L237,50 L257,40 L302,15 L337,0 L347,15 L327,80 L352,90 L432,85 L512,84 L522,103 L482,135 L512,190 L502,206 L452,180 L352,155 L337,180 L332,225 L307,225 L272,180 L232,175 L222,215 L192,215 L167,185 L112,175 L42,160 C20,156 8,152 4,146 C1,140 0,135 0,130 Z" fill="#000"/>
<path transform="translate(193.80,258.50) scale(-0.0429,0.0425)" d="M5,135 L118,172 L117,135 C121,100 150,80 188,80 C208,80 222,87 240,80 C265,64 295,42 330,24 L345,8 L357,22 L373,4 L385,24 L403,18 L423,60 C475,90 525,130 575,205 L572,238 C545,255 505,262 445,272 L385,290 C368,320 345,348 308,356 C300,335 300,312 294,298 L240,285 L205,292 L172,286 L150,270 L120,250 L8,272 C0,230 0,180 5,135 Z" fill="#000"/>
<g transform="translate(209.50,318.70) scale(0.0415,0.0423) translate(-80,-120)" fill="none" stroke="#000" stroke-linecap="round" stroke-linejoin="round"><path stroke-width="54" d="M100,322 C122,298 145,280 175,268 C210,256 245,248 280,252 C305,258 322,280 345,290 C370,297 395,292 412,280"/><path stroke-width="50" d="M160,268 C150,255 142,242 134,232"/><path stroke-width="52" d="M292,256 C272,222 260,188 254,156"/><circle cx="253" cy="158" r="30" fill="#000" stroke="none"/><path stroke-width="50" d="M405,268 C400,240 396,212 393,192"/><circle cx="392" cy="193" r="28" fill="#000" stroke="none"/><path fill="#000" stroke-width="8" d="M392,255 C432,228 482,232 530,255 C565,272 590,296 600,316 C578,326 540,324 500,317 C452,309 412,300 382,290 Z"/></g>
<path transform="translate(239.10,329.30) scale(0.0440,0.0439)" d="M0,95 C2,75 8,62 20,57 L55,45 L125,35 C150,30 160,25 172,18 C185,8 195,4 210,2 C225,0 238,8 245,15 C255,6 265,3 285,2 C310,0 335,8 350,20 C365,32 375,48 385,65 C400,64 415,62 430,57 C450,49 470,45 495,48 C515,52 526,65 525,85 C524,105 520,122 500,133 C480,137 460,134 440,128 C420,122 405,116 385,118 C372,130 365,142 350,150 C335,156 318,156 300,152 C280,147 260,143 230,141 L175,136 L75,130 C40,127 15,122 8,115 C2,108 0,100 0,95 Z" fill="#000"/>
<path transform="translate(268.70,247.20) scale(0.0473,0.0476)" d="M0,130 C5,115 12,105 22,100 L72,75 L132,50 L182,30 L212,14 L232,25 L237,50 L257,40 L302,15 L337,0 L347,15 L327,80 L352,90 L432,85 L512,84 L522,103 L482,135 L512,190 L502,206 L452,180 L352,155 L337,180 L332,225 L307,225 L272,180 L232,175 L222,215 L192,215 L167,185 L112,175 L42,160 C20,156 8,152 4,146 C1,140 0,135 0,130 Z" fill="#000"/>
<path transform="translate(324.30,243.30) scale(-0.0434,0.0411)" d="M5,135 L118,172 L117,135 C121,100 150,80 188,80 C208,80 222,87 240,80 C265,64 295,42 330,24 L345,8 L357,22 L373,4 L385,24 L403,18 L423,60 C475,90 525,130 575,205 L572,238 C545,255 505,262 445,272 L385,290 C368,320 345,348 308,356 C300,335 300,312 294,298 L240,285 L205,292 L172,286 L150,270 L120,250 L8,272 C0,230 0,180 5,135 Z" fill="#000"/>
<text x="281.00" y="268.81" font-size="8.6" text-anchor="middle" font-weight="normal" letter-spacing="0.5" fill="#111">***</text>
<text x="310.90" y="270.11" font-size="8.6" text-anchor="middle" font-weight="normal" letter-spacing="0.5" fill="#111">*</text>
<text x="352.80" y="233.20" font-size="10.5" text-anchor="start" font-weight="bold" fill="#000" stroke="#000" stroke-width="0.45">d</text>
<line x1="395.50" y1="236.00" x2="395.50" y2="413.10" stroke="#8c8c8c" stroke-width="0.8" />
<line x1="392.50" y1="413.10" x2="395.50" y2="413.10" stroke="#8c8c8c" stroke-width="0.8" />
<text x="388.60" y="415.90" font-size="8.0" text-anchor="end" font-weight="normal" fill="#111" >0</text>
<line x1="392.50" y1="360.70" x2="395.50" y2="360.70" stroke="#8c8c8c" stroke-width="0.8" />
<text x="388.60" y="363.50" font-size="8.0" text-anchor="end" font-weight="normal" fill="#111" >1</text>
<line x1="392.50" y1="308.30" x2="395.50" y2="308.30" stroke="#8c8c8c" stroke-width="0.8" />
<text x="388.60" y="311.10" font-size="8.0" text-anchor="end" font-weight="normal" fill="#111" >2</text>
<line x1="392.50" y1="255.90" x2="395.50" y2="255.90" stroke="#8c8c8c" stroke-width="0.8" />
<text x="388.60" y="258.70" font-size="8.0" text-anchor="end" font-weight="normal" fill="#111" >3</text>
<text transform="translate(366.87,324.50) rotate(-90)" font-size="7.9" text-anchor="middle" fill="#111">Isotopic niche width</text>
<text transform="translate(376.47,324.50) rotate(-90)" font-size="7.9" text-anchor="middle" fill="#111">(1 s.d. of δ<tspan font-size="5" dy="-3">15</tspan><tspan dy="3">N</tspan>, ‰ versus N<tspan font-size="5" dy="1.6">2</tspan><tspan dy="-1.6"> air)</tspan></text>
<rect x="403.75" y="353.90" width="13.20" height="59.20" fill="#87CEEB"/>
<rect x="419.15" y="379.20" width="13.20" height="33.90" fill="#FA8072"/>
<rect x="442.10" y="374.80" width="13.20" height="38.30" fill="#87CEEB"/>
<rect x="457.50" y="399.40" width="13.20" height="13.70" fill="#FA8072"/>
<rect x="480.45" y="370.10" width="13.20" height="43.00" fill="#87CEEB"/>
<rect x="495.85" y="378.20" width="13.20" height="34.90" fill="#FA8072"/>
<rect x="518.80" y="328.00" width="13.20" height="85.10" fill="#87CEEB"/>
<rect x="534.20" y="386.60" width="13.20" height="26.50" fill="#FA8072"/>
<rect x="569.15" y="258.40" width="13.20" height="154.70" fill="#87CEEB"/>
<rect x="584.55" y="323.90" width="13.20" height="89.20" fill="#FA8072"/>
<rect x="607.45" y="370.80" width="13.20" height="42.30" fill="#87CEEB"/>
<rect x="622.85" y="388.80" width="13.20" height="24.30" fill="#FA8072"/>
<rect x="645.75" y="378.40" width="13.20" height="34.70" fill="#87CEEB"/>
<rect x="661.15" y="396.00" width="13.20" height="17.10" fill="#FA8072"/>
<line x1="392.00" y1="413.30" x2="555.00" y2="413.30" stroke="#a0a0a0" stroke-width="0.9" />
<line x1="566.90" y1="413.30" x2="680.70" y2="413.30" stroke="#a0a0a0" stroke-width="0.9" />
<line x1="418.05" y1="413.30" x2="418.05" y2="415.90" stroke="#8c8c8c" stroke-width="0.8" />
<line x1="456.40" y1="413.30" x2="456.40" y2="415.90" stroke="#8c8c8c" stroke-width="0.8" />
<line x1="494.75" y1="413.30" x2="494.75" y2="415.90" stroke="#8c8c8c" stroke-width="0.8" />
<line x1="533.10" y1="413.30" x2="533.10" y2="415.90" stroke="#8c8c8c" stroke-width="0.8" />
<line x1="583.45" y1="413.30" x2="583.45" y2="415.90" stroke="#8c8c8c" stroke-width="0.8" />
<line x1="621.75" y1="413.30" x2="621.75" y2="415.90" stroke="#8c8c8c" stroke-width="0.8" />
<line x1="660.05" y1="413.30" x2="660.05" y2="415.90" stroke="#8c8c8c" stroke-width="0.8" />
<text x="412.50" y="424.60" font-size="6.2" text-anchor="end" font-weight="normal" fill="#111" >(<tspan font-style="italic">n</tspan> = 15)</text>
<text x="425.75" y="424.60" font-size="6.2" text-anchor="middle" font-weight="normal" fill="#111" >(16)</text>
<text x="448.70" y="424.60" font-size="6.2" text-anchor="middle" font-weight="normal" fill="#111" >(9)</text>
<text x="464.10" y="424.60" font-size="6.2" text-anchor="middle" font-weight="normal" fill="#111" >(10)</text>
<text x="487.05" y="424.60" font-size="6.2" text-anchor="middle" font-weight="normal" fill="#111" >(10)</text>
<text x="502.45" y="424.60" font-size="6.2" text-anchor="middle" font-weight="normal" fill="#111" >(10)</text>
<text x="525.40" y="424.60" font-size="6.2" text-anchor="middle" font-weight="normal" fill="#111" >(10)</text>
<text x="540.80" y="424.60" font-size="6.2" text-anchor="middle" font-weight="normal" fill="#111" >(13)</text>
<text x="575.75" y="424.60" font-size="6.2" text-anchor="middle" font-weight="normal" fill="#111" >(6)</text>
<text x="591.15" y="424.60" font-size="6.2" text-anchor="middle" font-weight="normal" fill="#111" >(8)</text>
<text x="614.05" y="424.60" font-size="6.2" text-anchor="middle" font-weight="normal" fill="#111" >(10)</text>
<text x="629.45" y="424.60" font-size="6.2" text-anchor="middle" font-weight="normal" fill="#111" >(10)</text>
<text x="652.35" y="424.60" font-size="6.2" text-anchor="middle" font-weight="normal" fill="#111" >(5)</text>
<text x="667.75" y="424.60" font-size="6.2" text-anchor="middle" font-weight="normal" fill="#111" >(4)</text>
<text x="418.05" y="436.40" font-size="8.0" text-anchor="middle" font-weight="normal" fill="#111" >Gob.</text>
<text x="456.40" y="436.40" font-size="8.0" text-anchor="middle" font-weight="normal" fill="#111" >Silver.</text>
<text x="494.75" y="436.40" font-size="8.0" text-anchor="middle" font-weight="normal" fill="#111" >Cardinal.</text>
<text x="533.10" y="436.40" font-size="8.0" text-anchor="middle" font-weight="normal" fill="#111" >Grunts</text>
<text x="583.45" y="436.40" font-size="8.0" text-anchor="middle" font-weight="normal" fill="#111" >Gob.</text>
<text x="621.75" y="436.40" font-size="8.0" text-anchor="middle" font-weight="normal" fill="#111" >Cardinal.</text>
<text x="660.05" y="436.40" font-size="8.0" text-anchor="middle" font-weight="normal" fill="#111" >Grunts</text>
<text x="419.60" y="372.50" font-size="8.0" text-anchor="start" font-weight="normal" fill="#111" >−42%</text>
<text x="456.60" y="393.80" font-size="8.0" text-anchor="start" font-weight="normal" fill="#111" >−66%</text>
<text x="495.70" y="372.20" font-size="8.0" text-anchor="start" font-weight="normal" fill="#111" >−19%</text>
<text x="534.30" y="379.10" font-size="8.0" text-anchor="start" font-weight="normal" fill="#111" >−69%</text>
<text x="584.80" y="316.50" font-size="8.0" text-anchor="start" font-weight="normal" fill="#111" >−42%</text>
<text x="622.80" y="381.00" font-size="8.0" text-anchor="start" font-weight="normal" fill="#111" >−42%</text>
<text x="661.20" y="388.10" font-size="8.0" text-anchor="start" font-weight="normal" fill="#111" >−50%</text>
<text x="417.50" y="349.24" font-size="7.5" text-anchor="middle" font-weight="normal" letter-spacing="0.5" fill="#111">*</text>
<text x="455.60" y="371.41" font-size="8.6" text-anchor="middle" font-weight="bold" letter-spacing="0.5" fill="#111">**</text>
<text x="531.00" y="323.01" font-size="8.6" text-anchor="middle" font-weight="bold" letter-spacing="0.5" fill="#111">***</text>
<path d="M405.30,252.70 L407.20,255.90 L403.40,255.90 Z" fill="none" stroke="#00BFFF" stroke-width="0.95" stroke-linejoin="miter"/>
<path d="M405.30,254.20 L407.20,257.40 L403.40,257.40 Z" fill="none" stroke="#00BFFF" stroke-width="0.95" stroke-linejoin="miter"/>
<path d="M405.30,256.00 L407.20,259.20 L403.40,259.20 Z" fill="none" stroke="#00BFFF" stroke-width="0.95" stroke-linejoin="miter"/>
<path d="M405.30,260.10 L407.20,263.30 L403.40,263.30 Z" fill="none" stroke="#00BFFF" stroke-width="0.95" stroke-linejoin="miter"/>
<path d="M405.30,266.00 L407.20,269.20 L403.40,269.20 Z" fill="none" stroke="#00BFFF" stroke-width="0.95" stroke-linejoin="miter"/>
<path d="M405.30,268.60 L407.20,271.80 L403.40,271.80 Z" fill="none" stroke="#00BFFF" stroke-width="0.95" stroke-linejoin="miter"/>
<path d="M405.30,283.30 L407.20,286.50 L403.40,286.50 Z" fill="none" stroke="#00BFFF" stroke-width="0.95" stroke-linejoin="miter"/>
<circle cx="405.3" cy="265.6" r="1.7" fill="#000"/>
<line x1="411.50" y1="252.40" x2="411.50" y2="286.70" stroke="#333" stroke-width="0.9" />
<line x1="409.40" y1="252.40" x2="414.30" y2="252.40" stroke="#333" stroke-width="0.9" />
<line x1="409.40" y1="286.70" x2="414.30" y2="286.70" stroke="#333" stroke-width="0.9" />
<line x1="413.30" y1="265.60" x2="420.50" y2="265.60" stroke="#222" stroke-width="0.9" />
<path d="M419.6,263.9 L423.0,265.6 L419.6,267.3 Z" fill="#222"/>
<line x1="427.40" y1="257.30" x2="427.40" y2="265.60" stroke="#00BFFF" stroke-width="0.9" />
<line x1="427.40" y1="265.60" x2="427.40" y2="274.80" stroke="#333" stroke-width="0.9" />
<circle cx="427.4" cy="265.6" r="1.5" fill="#000"/>
<text x="457.70" y="259.30" font-size="8.0" text-anchor="middle" font-weight="normal" fill="#111" >Isotopic</text>
<text x="457.70" y="269.10" font-size="8.0" text-anchor="middle" font-weight="normal" fill="#111" >niche width</text>
<text x="457.90" y="278.20" font-size="8.0" text-anchor="middle" font-weight="normal" fill="#111" >(1 s.d. of δ<tspan font-size="5" dy="-3">15</tspan><tspan dy="3">N</tspan>)</text>
<path transform="translate(406.80,331.40) scale(0.0444,0.0452)" d="M0,95 C2,75 8,62 20,57 L55,45 L125,35 C150,30 160,25 172,18 C185,8 195,4 210,2 C225,0 238,8 245,15 C255,6 265,3 285,2 C310,0 335,8 350,20 C365,32 375,48 385,65 C400,64 415,62 430,57 C450,49 470,45 495,48 C515,52 526,65 525,85 C524,105 520,122 500,133 C480,137 460,134 440,128 C420,122 405,116 385,118 C372,130 365,142 350,150 C335,156 318,156 300,152 C280,147 260,143 230,141 L175,136 L75,130 C40,127 15,122 8,115 C2,108 0,100 0,95 Z" fill="#000"/>
<path transform="translate(445.00,352.40) scale(0.0448,0.0419)" d="M5,70 C20,45 60,32 135,30 L245,25 L265,0 L280,25 L315,30 L335,10 L365,5 L395,30 L415,50 L445,60 L545,30 L555,40 L515,80 L550,100 L540,115 L495,95 L435,90 L395,110 L365,130 L335,130 L305,105 L205,110 L195,150 L175,155 L165,115 L55,100 L10,90 Z" fill="#000"/>
<path transform="translate(483.20,344.90) scale(0.0469,0.0476)" d="M0,130 C5,115 12,105 22,100 L72,75 L132,50 L182,30 L212,14 L232,25 L237,50 L257,40 L302,15 L337,0 L347,15 L327,80 L352,90 L432,85 L512,84 L522,103 L482,135 L512,190 L502,206 L452,180 L352,155 L337,180 L332,225 L307,225 L272,180 L232,175 L222,215 L192,215 L167,185 L112,175 L42,160 C20,156 8,152 4,146 C1,140 0,135 0,130 Z" fill="#000"/>
<path transform="translate(545.90,297.40) scale(-0.0434,0.0434)" d="M5,135 L118,172 L117,135 C121,100 150,80 188,80 C208,80 222,87 240,80 C265,64 295,42 330,24 L345,8 L357,22 L373,4 L385,24 L403,18 L423,60 C475,90 525,130 575,205 L572,238 C545,255 505,262 445,272 L385,290 C368,320 345,348 308,356 C300,335 300,312 294,298 L240,285 L205,292 L172,286 L150,270 L120,250 L8,272 C0,230 0,180 5,135 Z" fill="#000"/>
<path transform="translate(571.60,242.40) scale(0.0434,0.0439)" d="M0,95 C2,75 8,62 20,57 L55,45 L125,35 C150,30 160,25 172,18 C185,8 195,4 210,2 C225,0 238,8 245,15 C255,6 265,3 285,2 C310,0 335,8 350,20 C365,32 375,48 385,65 C400,64 415,62 430,57 C450,49 470,45 495,48 C515,52 526,65 525,85 C524,105 520,122 500,133 C480,137 460,134 440,128 C420,122 405,116 385,118 C372,130 365,142 350,150 C335,156 318,156 300,152 C280,147 260,143 230,141 L175,136 L75,130 C40,127 15,122 8,115 C2,108 0,100 0,95 Z" fill="#000"/>
<path transform="translate(608.60,350.60) scale(0.0490,0.0462)" d="M0,130 C5,115 12,105 22,100 L72,75 L132,50 L182,30 L212,14 L232,25 L237,50 L257,40 L302,15 L337,0 L347,15 L327,80 L352,90 L432,85 L512,84 L522,103 L482,135 L512,190 L502,206 L452,180 L352,155 L337,180 L332,225 L307,225 L272,180 L232,175 L222,215 L192,215 L167,185 L112,175 L42,160 C20,156 8,152 4,146 C1,140 0,135 0,130 Z" fill="#000"/>
<path transform="translate(672.20,354.80) scale(-0.0426,0.0439)" d="M5,135 L118,172 L117,135 C121,100 150,80 188,80 C208,80 222,87 240,80 C265,64 295,42 330,24 L345,8 L357,22 L373,4 L385,24 L403,18 L423,60 C475,90 525,130 575,205 L572,238 C545,255 505,262 445,272 L385,290 C368,320 345,348 308,356 C300,335 300,312 294,298 L240,285 L205,292 L172,286 L150,270 L120,250 L8,272 C0,230 0,180 5,135 Z" fill="#000"/>
</svg>
</body></html>
